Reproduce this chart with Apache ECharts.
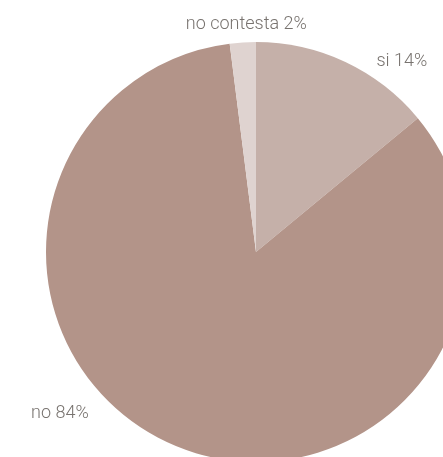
<!DOCTYPE html>
<html><head><meta charset="utf-8">
<style>html,body{margin:0;padding:0;background:#fff}#c{width:443px;height:457px}</style>
<script src="https://cdn.jsdelivr.net/npm/echarts@6/dist/echarts.min.js"></script>
</head><body><div id="c"></div>
<script>
const categories = ['si', 'no', 'no contesta'];
const values = [14, 84, 2];
const colors = ['#c5b0a9', '#b39489', '#dfd3d0'];
// label nudges (dx, dy) relative to ECharts' default outside placement
const labelShift = [[26, 0], [-85, -34], [69, -18]];

const chart = echarts.init(document.getElementById('c'), null, {renderer: 'canvas'});
chart.setOption({
  animation: false,
  series: [{
    type: 'pie',
    center: [256, 252],
    radius: [0, 210],
    startAngle: 90,
    clockwise: true,
    avoidLabelOverlap: false,
    data: categories.map((c, i) => ({name: c, value: values[i], itemStyle: {color: colors[i]}})),
    label: {
      show: true,
      position: 'outside',
      formatter: p => p.name + ' ' + p.value + '%',
      color: '#78736f',
      fontFamily: 'Roboto',
      fontWeight: 300,
      fontSize: 18
    },
    labelLine: {show: false, length: 0, length2: 0},
    labelLayout: p => ({dx: labelShift[p.dataIndex][0], dy: labelShift[p.dataIndex][1]}),
    emphasis: {disabled: true}
  }]
});
</script></body></html>
